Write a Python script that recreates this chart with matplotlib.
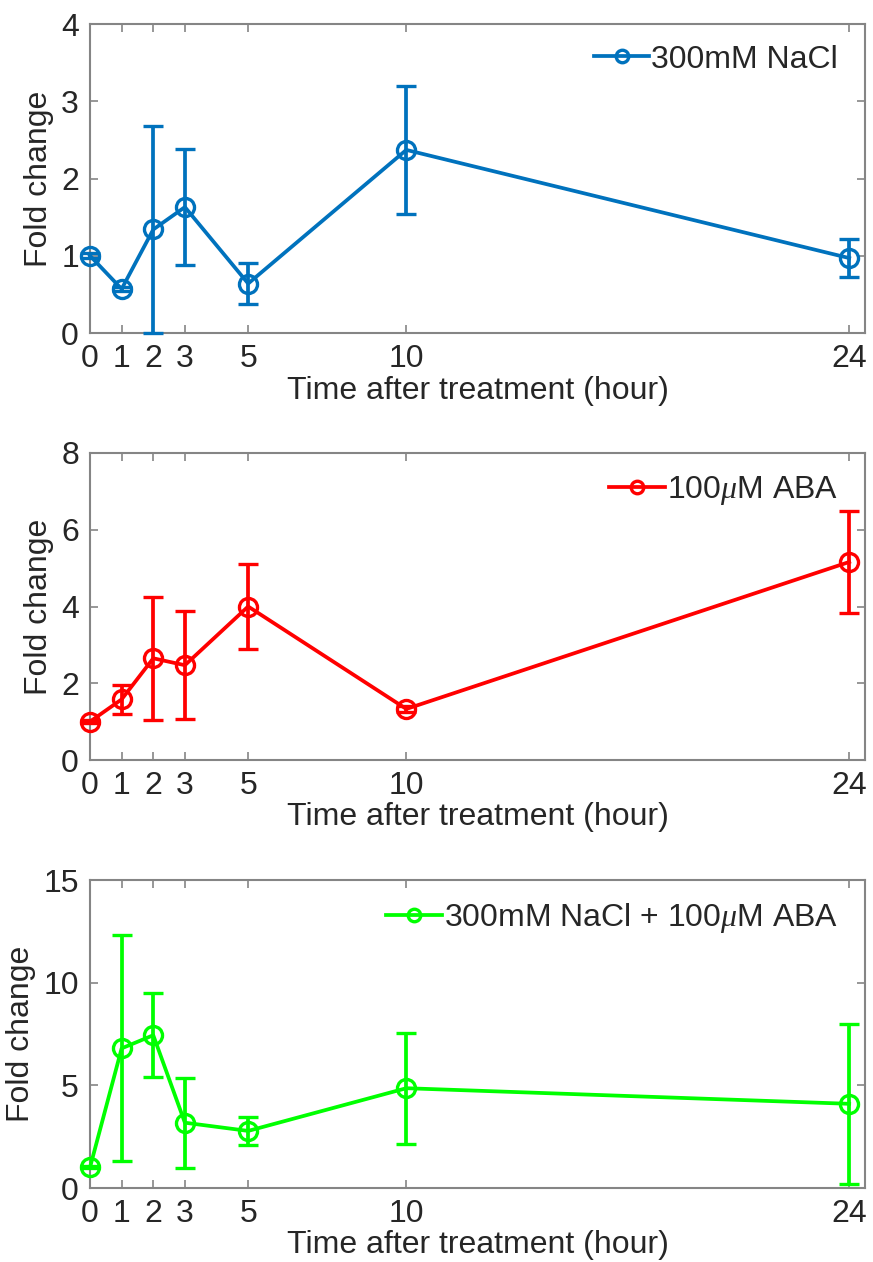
import matplotlib
matplotlib.use("Agg")
import matplotlib.pyplot as plt
from matplotlib.lines import Line2D

plt.rcParams['font.family'] = ['Liberation Sans', 'DejaVu Sans']
plt.rcParams['mathtext.fontset'] = 'custom'
plt.rcParams['mathtext.rm'] = 'Liberation Sans'
plt.rcParams['mathtext.it'] = 'Liberation Serif:italic'

time_h = [0, 1, 2, 3, 5, 10, 24]
xtick_labels = ['0', '1', '2', '3', '5', '10', '24']

nacl_mean = [1.0, 0.57, 1.34, 1.63, 0.64, 2.37, 0.97]
nacl_err = [0.03, 0.03, 1.34, 0.75, 0.27, 0.83, 0.25]

aba_mean = [1.0, 1.58, 2.65, 2.47, 4.0, 1.33, 5.16]
aba_err = [0.03, 0.37, 1.6, 1.4, 1.1, 0.08, 1.32]

mix_mean = [1.0, 6.8, 7.44, 3.18, 2.78, 4.86, 4.1]
mix_err = [0.05, 5.5, 2.05, 2.2, 0.68, 2.7, 3.9]

panels = [
    dict(mean=nacl_mean, err=nacl_err, color='#0072BD', label='300mM NaCl',
         ylim=(0, 4), yticks=[0, 1, 2, 3, 4], rect=(90, 24, 865, 333)),
    dict(mean=aba_mean, err=aba_err, color='#FF0000', label='100$\\mu$M ABA',
         ylim=(0, 8), yticks=[0, 2, 4, 6, 8], rect=(90, 453, 865, 760)),
    dict(mean=mix_mean, err=mix_err, color='#00FF00', label='300mM NaCl + 100$\\mu$M ABA',
         ylim=(0, 15), yticks=[0, 5, 10, 15], rect=(90, 880, 865, 1188)),
]

W, H = 873, 1262
fig = plt.figure(figsize=(W / 100, H / 100), dpi=100)
axis_gray = '#858585'
text_col = '#262626'
FS = 23

for p in panels:
    l, t, r, b = p['rect']
    ax = fig.add_axes([l / W, 1 - b / H, (r - l) / W, (b - t) / H])
    ax.errorbar(time_h, p['mean'], yerr=p['err'], color=p['color'], lw=2.7,
                marker='o', markersize=13, markerfacecolor='none',
                markeredgewidth=2.4, capsize=7, capthick=2.7, elinewidth=2.7,
                clip_on=False, zorder=3)
    ax.set_xlim(0, 24.5)
    ax.set_ylim(*p['ylim'])
    ax.set_xticks(time_h)
    ax.set_xticklabels(xtick_labels)
    ax.set_yticks(p['yticks'])
    ax.tick_params(direction='in', top=True, right=True, length=6, width=1.2,
                   color=axis_gray, labelsize=FS, labelcolor=text_col)
    ax.tick_params(axis='x', pad=8)
    ax.tick_params(axis='y', pad=8)
    for s in ax.spines.values():
        s.set_color(axis_gray)
        s.set_linewidth(1.5)
    ax.set_xlabel('Time after treatment (hour)', fontsize=FS, color=text_col, labelpad=1)
    ax.set_ylabel('Fold change', fontsize=FS, color=text_col, labelpad=5)
    handle = Line2D([], [], color=p['color'], lw=2.7, marker='o', markersize=9,
                    markerfacecolor='none', markeredgewidth=2.4)
    leg = ax.legend([handle], [p['label']], loc='upper right', frameon=False,
                    bbox_to_anchor=(1.0, 1.021),
                    fontsize=FS, handlelength=1.75, handletextpad=0.05,
                    borderaxespad=0.55, borderpad=0.3)
    for txt in leg.get_texts():
        txt.set_color(text_col)

fig.savefig('out.png', dpi=100)
